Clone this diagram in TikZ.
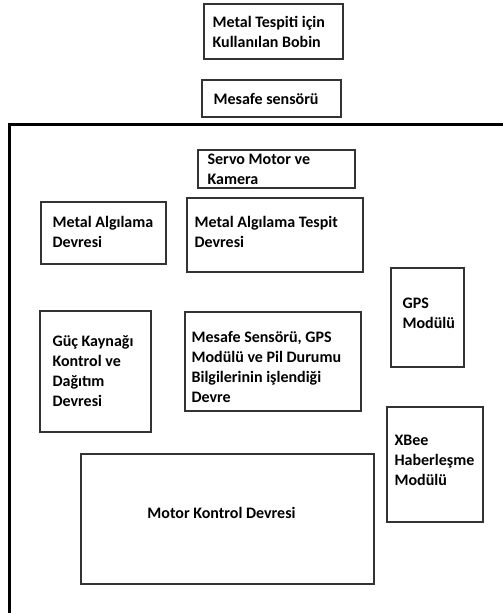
\documentclass[tikz,border=0pt]{standalone}
\usepackage{fontspec}
\setmainfont{Carlito}
\begin{document}
\begin{tikzpicture}[x=1pt,y=-1pt,
  txt/.style={font=\fontsize{16}{20}\selectfont\bfseries, align=left, inner sep=0pt, anchor=west},
  box/.style={draw=black!80, line width=1.2pt, inner sep=0pt},
  frame/.style={line width=3.5pt, black}]
\useasboundingbox (0,0) rectangle (503,613);
\fill[white] (0,0) rectangle (503,613);
% outer frame
\draw[frame] (9.5,616) -- (9.5,124.5) -- (506,124.5);
% boxes
\node[box, minimum width=139pt, minimum height=55pt] (bobin) at (273.5,31.5) {};
\node[txt] (bobint) at ([xshift=9pt]bobin.west) {Metal Tespiti için\\Kullanılan Bobin};
\node[box, minimum width=139pt, minimum height=37pt] (mesafe) at (271.5,98.5) {};
\node[txt] (mesafet) at ([xshift=12pt]mesafe.west) {Mesafe sensörü};
\node[box, minimum width=157pt, minimum height=38pt] (servo) at (276.5,169) {};
\node[txt] (servot) at ([xshift=10pt]servo.west) {Servo Motor ve\\Kamera};
\node[box, minimum width=125pt, minimum height=62pt] (mad) at (103.5,233) {};
\node[txt] (madt) at ([xshift=12pt,yshift=1pt]mad.west) {Metal Algılama\\Devresi};
\node[box, minimum width=176pt, minimum height=74pt] (matd) at (275,235) {};
\node[txt] (matdt) at ([xshift=8pt,yshift=3pt]matd.west) {Metal Algılama Tespit\\Devresi};
\node[box, minimum width=73pt, minimum height=99pt] (gps) at (427.5,317.5) {};
\node[txt] (gpst) at ([xshift=12pt,yshift=4pt]gps.west) {GPS\\Modülü};
\node[box, minimum width=111pt, minimum height=121pt] (guc) at (95.5,371.5) {};
\node[txt] (guct) at ([xshift=13pt]guc.west) {Güç Kaynağı\\Kontrol ve\\Dağıtım\\Devresi};
\node[box, minimum width=176pt, minimum height=99pt] (isl) at (273,361.5) {};
\node[txt] (islt) at ([xshift=7pt,yshift=-5pt]isl.west)
  {Mesafe Sensörü, GPS\\Modülü ve Pil Durumu\\Bilgilerinin işlendiği\\Devre};
\node[box, minimum width=96pt, minimum height=115pt] (xbee) at (435,464.5) {};
\node[txt] (xbeet) at ([xshift=8pt,yshift=4pt]xbee.west) {XBee\\Haberleşme\\Modülü};
\node[box, minimum width=293pt, minimum height=130pt] (motor) at (227.5,519) {};
\node[txt, anchor=center] (motort) at (221.5,512.5) {Motor Kontrol Devresi};
\end{tikzpicture}
\end{document}
